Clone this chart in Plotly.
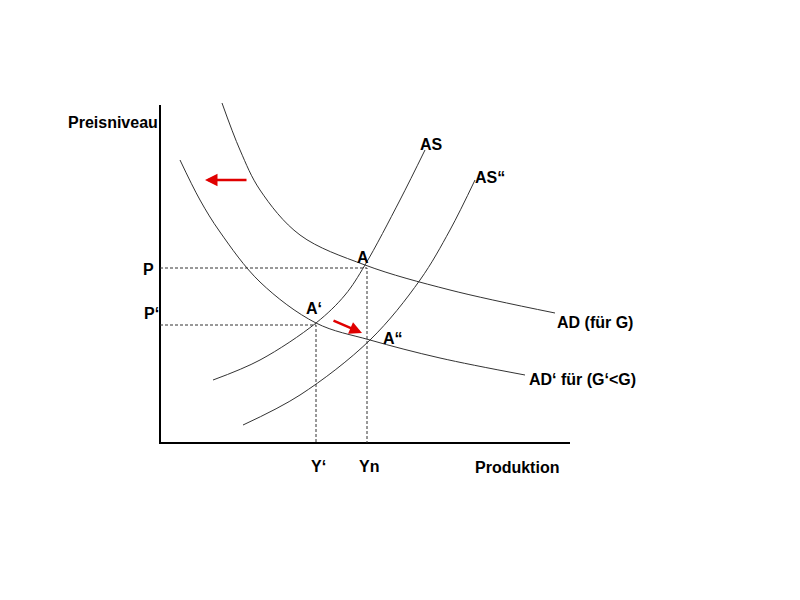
import plotly.graph_objects as go

# curve points (diagram coordinates, y grows downward)
ad_x = [222, 240, 260, 300, 365, 450, 555]
ad_y = [103, 150, 190, 235, 265, 290, 313]
ad2_x = [180, 200, 220, 260, 316, 370, 440, 525]
ad2_y = [160, 200, 232, 282, 323, 340, 358, 375]
as_x = [213, 260, 316, 345, 365, 400, 425]
as_y = [380, 360, 323, 295, 265, 200, 150]
as2_x = [243, 300, 370, 420, 450, 475]
as2_y = [425, 395, 340, 280, 230, 180]

labels = ["Preisniveau", "P", "P‘", "A", "A‘", "A“", "AS", "AS“", "AD (für G)", "AD‘ für (G‘<G)", "Y‘", "Yn", "Produktion"]
label_x = [113, 148, 151, 363, 314, 393, 431, 490, 595, 582, 318, 369, 517]
label_y = [122, 269, 313, 257, 308, 338, 144, 177, 322, 379, 466, 466, 467]

fig = go.Figure()
line = dict(color="#333", width=1, shape="spline", smoothing=1)
for xs, ys in [(ad_x, ad_y), (ad2_x, ad2_y), (as_x, as_y), (as2_x, as2_y)]:
    fig.add_trace(go.Scatter(x=xs, y=ys, mode="lines", line=line, hoverinfo="skip"))

fig.add_trace(go.Scatter(x=[160, 160, 570], y=[105, 443, 443], mode="lines",
                         line=dict(color="black", width=2), hoverinfo="skip"))
dash = dict(color="#333", width=1, dash="3px,2px")
fig.add_trace(go.Scatter(x=[160, 367, 367], y=[268, 268, 443], mode="lines", line=dash))
fig.add_trace(go.Scatter(x=[160, 316, 316], y=[325, 325, 443], mode="lines", line=dash))

for t, x, y in zip(labels, label_x, label_y):
    fig.add_annotation(x=x, y=y, text="<b>" + t + "</b>", showarrow=False,
                       font=dict(family="Liberation Sans", size=16, color="black"))

for (x0, y0, x1, y1) in [(248, 180, 205, 180), (332, 320, 362, 333)]:
    fig.add_annotation(x=x1, y=y1, ax=x0, ay=y0, xref="x", yref="y", axref="x", ayref="y",
                       text="", showarrow=True, arrowhead=2, arrowsize=1, arrowwidth=2.5,
                       arrowcolor="#e00000")

fig.update_layout(width=800, height=600, margin=dict(l=0, r=0, t=0, b=0),
                  plot_bgcolor="white", paper_bgcolor="white", showlegend=False,
                  xaxis=dict(range=[8, 808], visible=False),
                  yaxis=dict(range=[608, 8], visible=False))
fig.write_html("out.html")
